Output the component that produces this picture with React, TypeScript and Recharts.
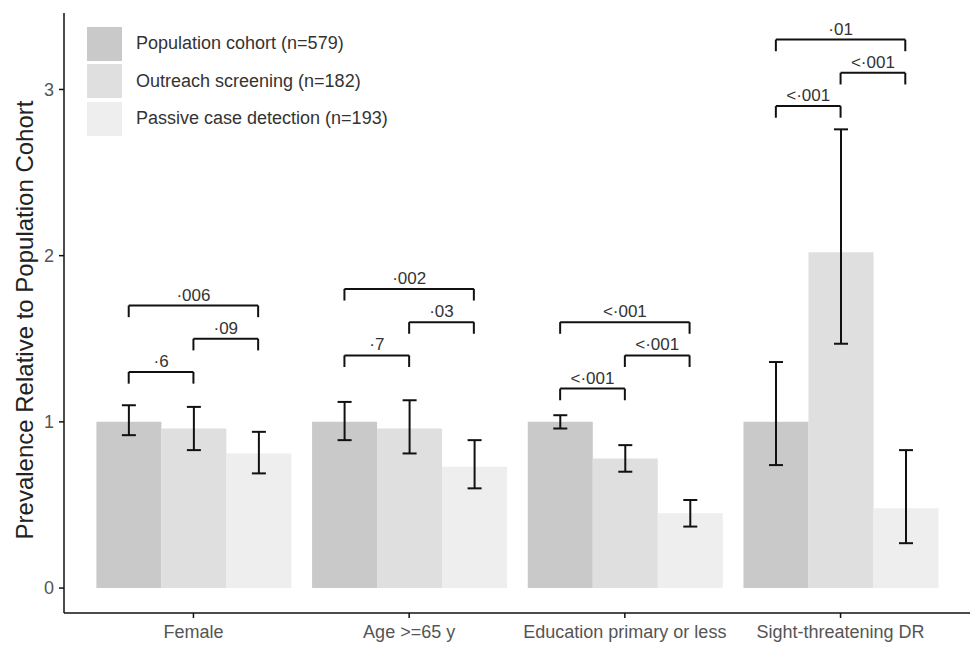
import React from "react";
import { ComposedChart, Bar, ErrorBar, XAxis, YAxis, ReferenceLine, Legend, Label } from "recharts";

const categories = ["Female", "Age >=65 y", "Education primary or less", "Sight-threatening DR"];

const populationCohort = [1.0, 1.0, 1.0, 1.0];
const populationLow = [0.92, 0.89, 0.96, 0.74];
const populationHigh = [1.1, 1.12, 1.04, 1.36];

const outreachScreening = [0.96, 0.96, 0.78, 2.02];
const outreachLow = [0.83, 0.81, 0.7, 1.47];
const outreachHigh = [1.09, 1.13, 0.86, 2.76];

const passiveDetection = [0.81, 0.73, 0.45, 0.48];
const passiveLow = [0.69, 0.6, 0.37, 0.27];
const passiveHigh = [0.94, 0.89, 0.53, 0.83];

const seriesNames = ["Population cohort (n=579)", "Outreach screening (n=182)", "Passive case detection (n=193)"];
const seriesColors = ["#c9c9c9", "#dfdfdf", "#eeeeee"];

const yTicks = [0, 1, 2, 3];

// which two bars each bracket joins, then bracket height and p value per category
const comparisonPairs = [[0, 1], [1, 2], [0, 2]];
const comparisonHeights = [
  [1.3, 1.5, 1.7],
  [1.4, 1.6, 1.8],
  [1.2, 1.4, 1.6],
  [2.9, 3.1, 3.3],
];
const comparisonLabels = [
  ["·6", "·09", "·006"],
  ["·7", "·03", "·002"],
  ["<·001", "<·001", "<·001"],
  ["<·001", "<·001", "·01"],
];

const values = [populationCohort, outreachScreening, passiveDetection];
const lows = [populationLow, outreachLow, passiveLow];
const highs = [populationHigh, outreachHigh, passiveHigh];

const rows = categories.map((category, i) => {
  const row: any = { category, pos: i + 1 };
  values.forEach((v, s) => {
    row["s" + s] = v[i];
    row["e" + s] = [v[i] - lows[s][i], highs[s][i] - v[i]];
  });
  return row;
});

const GROUP_WIDTH = 0.9;
const TIP = 0.07;
const FONT = '"Liberation Sans", Arial, Helvetica, sans-serif';

const barCenter = (cat: number, s: number) =>
  cat + 1 + (s - (values.length - 1) / 2) * (GROUP_WIDTH / values.length);

function LegendBox() {
  return (
    <div style={{ fontFamily: FONT }}>
      {seriesNames.map((name, i) => (
        <div key={name} style={{ display: "flex", alignItems: "center", height: 37.5 }}>
          <span style={{ display: "inline-block", width: 35, height: 34, background: seriesColors[i] }} />
          <span style={{ marginLeft: 14, fontSize: 18, color: "#333" }}>{name}</span>
        </div>
      ))}
    </div>
  );
}

export default function App() {
  const brackets: React.ReactNode[] = [];
  categories.forEach((_, c) => {
    comparisonPairs.forEach(([a, b], k) => {
      const h = comparisonHeights[c][k];
      const x0 = barCenter(c, a);
      const x1 = barCenter(c, b);
      const line = { xAxisId: "num", stroke: "#111", strokeWidth: 2, ifOverflow: "visible" as const };
      brackets.push(
        <ReferenceLine key={`l${c}${k}`} {...line} segment={[{ x: x0, y: h - TIP }, { x: x0, y: h }]} />,
        <ReferenceLine key={`r${c}${k}`} {...line} segment={[{ x: x1, y: h - TIP }, { x: x1, y: h }]} />,
        <ReferenceLine
          key={`h${c}${k}`}
          {...line}
          segment={[{ x: x0, y: h }, { x: x1, y: h }]}
          label={{ value: comparisonLabels[c][k], position: "top", offset: 5, fill: "#333", fontSize: 17 }}
        />
      );
    });
  });

  return (
    <div style={{ position: "absolute", left: 0, top: 0, fontFamily: FONT, background: "#fff" }}>
      <ComposedChart
        width={971}
        height={645}
        data={rows}
        margin={{ top: 13, right: 1, bottom: 0, left: 0 }}
        barCategoryGap="5%"
        barGap={0}
      >
        <XAxis
          dataKey="category"
          interval={0}
          height={32}
          padding={{ left: 21.6, right: 21.6 }}
          axisLine={{ stroke: "#111", strokeWidth: 1.5 }}
          tickLine={{ stroke: "#111", strokeWidth: 1.5 }}
          tickSize={5}
          tickMargin={7}
          tick={{ fill: "#555", fontSize: 18 }}
        />
        <XAxis xAxisId="num" dataKey="pos" type="number" domain={[0.4, 4.6]} allowDataOverflow hide />
        <YAxis
          type="number"
          domain={[-0.15, 3.46]}
          allowDataOverflow
          ticks={yTicks}
          width={64}
          axisLine={{ stroke: "#111", strokeWidth: 1.5 }}
          tickLine={{ stroke: "#111", strokeWidth: 1.5 }}
          tickSize={5}
          tickMargin={5}
          tick={{ fill: "#555", fontSize: 18 }}
          label={
            <Label
              content={(p: any) => {
                const vb = p.viewBox || { y: 13, height: 600 };
                const cy = vb.y + vb.height / 2 + 7;
                return (
                  <text
                    x={33}
                    y={cy}
                    transform={`rotate(-90 33 ${cy})`}
                    textAnchor="middle"
                    fontSize={24}
                    fill="#222"
                  >
                    Prevalence Relative to Population Cohort
                  </text>
                );
              }}
            />
          }
        />
        <Legend
          layout="vertical"
          align="center"
          verticalAlign="middle"
          wrapperStyle={{ left: 87, top: 25, width: "auto", height: "auto" }}
          content={() => <LegendBox />}
        />
        {values.map((_, s) => (
          <Bar key={s} dataKey={"s" + s} name={seriesNames[s]} fill={seriesColors[s]} isAnimationActive={false}>
            <ErrorBar dataKey={"e" + s} width={7} stroke="#111" strokeWidth={2} isAnimationActive={false} />
          </Bar>
        ))}
        {brackets}
      </ComposedChart>
    </div>
  );
}
